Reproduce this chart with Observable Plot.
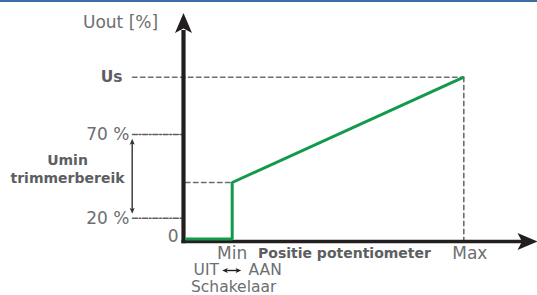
<!DOCTYPE html>
<html>
<head>
<meta charset="utf-8">
<script src="https://cdn.jsdelivr.net/npm/d3@7"></script>
<script src="https://cdn.jsdelivr.net/npm/@observablehq/plot@0.6"></script>
<style>
  html, body { margin: 0; padding: 0; background: #fff; }
  #wrap { width: 537px; height: 293px; border-top: 2px solid #3d6da3; overflow: hidden; }
  svg { display: block; }
</style>
</head>
<body>
<div id="wrap"></div>
<script>
// ---- data (schematic units) ----
const xMin = 48.7;          // potentiometer "Min"
const xMax = 280.3;         // potentiometer "Max"
const xEnd = 354;           // x-axis arrow tip
const yTop = 228.5;         // y-axis arrow tip
const yOff = 2.5;           // output level when switched off
const yUmin = 59;           // Umin level at Min
const yUs = 164.3;          // Us level at Max
const y70 = 107;            // 70 %
const y20 = 23.3;           // 20 %

const curveX = [2, xMin, xMin, xMax];
const curveY = [yOff, yOff, yUmin, yUs];

const yTickLabels = ["Us", "70 %", "20 %", "0"];
const yTickValues = [yUs, y70, y20, 4.5];
const yTickBold = [true, false, false, false];

const xTickLabels = ["Min", "Max"];
const xTickValues = [xMin, xMax + 6];

const axisTitleY = "Uout [%]";
const axisTitleX = "Positie potentiometer";
const rangeLabel = ["Umin", "trimmerbereik"];
const switchLabels = ["UIT", "AAN", "Schakelaar"];

// ---- build ----
const curve = curveX.map((x, i) => ({x, y: curveY[i]}));
const yTicks = yTickLabels.map((t, i) => ({t, y: yTickValues[i], bold: yTickBold[i]}));
const xTicks = xTickLabels.map((t, i) => ({t, x: xTickValues[i]}));

const ink = "#231f20";
const grey = "#6d6e71";
const dgrey = "#5d5e61";
const green = "#13994b";
const font = "'DejaVu Sans', sans-serif";

// notched arrowhead, tip at the anchor, pointing up (rotate to turn)
const arrowHead = {
  draw(ctx, size) {
    const k = Math.sqrt(size / Math.PI);
    ctx.moveTo(0, 0);
    ctx.lineTo(8.5 * k, 20 * k);
    ctx.lineTo(0, 15.5 * k);
    ctx.lineTo(-8.5 * k, 20 * k);
    ctx.closePath();
  }
};

const rangeTop = 102.7, rangeBot = 27.7, rangeX = -51.3;
const swY = -29, swX1 = 38.7, swX2 = 57.7;

const chart = Plot.plot({
  width: 537,
  height: 293,
  marginLeft: 183,
  marginRight: 0,
  marginTop: 10.5,
  marginBottom: 54,
  x: {domain: [0, xEnd], axis: null},
  y: {domain: [0, yTop], axis: null},
  style: {fontFamily: font, background: "#fff"},
  marks: [
    // dashed guide lines
    Plot.line([{x: -51, y: yUs}, {x: xMax, y: yUs}], {x: "x", y: "y", stroke: grey, strokeWidth: 1.6, strokeDasharray: "4.5,3.5"}),
    Plot.line([{x: xMax, y: yUs}, {x: xMax, y: 0}], {x: "x", y: "y", stroke: grey, strokeWidth: 1.6, strokeDasharray: "4.5,3.5"}),
    Plot.line([{x: 2, y: yUmin}, {x: xMin, y: yUmin}], {x: "x", y: "y", stroke: grey, strokeWidth: 1.6, strokeDasharray: "4.5,3.5"}),
    Plot.line([{x: -51, y: y70}, {x: -2, y: y70}], {x: "x", y: "y", stroke: dgrey, strokeWidth: 1.6, strokeDasharray: "5,1.8,1.6,1.8"}),
    Plot.line([{x: -51, y: y20}, {x: -2, y: y20}], {x: "x", y: "y", stroke: dgrey, strokeWidth: 1.6, strokeDasharray: "5,1.8,1.6,1.8"}),
    // range double arrow
    Plot.link([{x: rangeX, y1: rangeTop - 4, y2: rangeBot + 4}], {x1: "x", x2: "x", y1: "y1", y2: "y2", stroke: "#333", strokeWidth: 1.4}),
    Plot.dot([{x: rangeX, y: rangeTop, a: 0}, {x: rangeX, y: rangeBot, a: 180}], {x: "x", y: "y", r: 0.3, symbol: arrowHead, fill: "#333", stroke: null, rotate: "a"}),
    // switch double arrow
    Plot.link([{x1: swX1 + 4, x2: swX2 - 4, y: swY}], {x1: "x1", x2: "x2", y1: "y", y2: "y", stroke: ink, strokeWidth: 1.4}),
    Plot.dot([{x: swX1, y: swY, a: 270}, {x: swX2, y: swY, a: 90}], {x: "x", y: "y", r: 0.28, symbol: arrowHead, fill: ink, stroke: null, rotate: "a"}),
    // axes
    Plot.link([{x1: 0, x2: 0, y1: -1.8, y2: yTop - 17}], {x1: "x1", x2: "x2", y1: "y1", y2: "y2", stroke: ink, strokeWidth: 4.2}),
    Plot.link([{x1: -2.1, x2: xEnd - 15, y1: 0, y2: 0}], {x1: "x1", x2: "x2", y1: "y1", y2: "y2", stroke: ink, strokeWidth: 3.6}),
    Plot.dot([{x: 0, y: yTop}], {x: "x", y: "y", r: 1, symbol: arrowHead, fill: ink, stroke: null}),
    Plot.dot([{x: xEnd, y: 0}], {x: "x", y: "y", r: 1, symbol: arrowHead, fill: ink, stroke: null, rotate: 90}),
    // curve
    Plot.line(curve, {x: "x", y: "y", stroke: green, strokeWidth: 3, strokeLinejoin: "miter", strokeLinecap: "butt"}),
    // y labels
    Plot.text(yTicks.filter(d => !d.bold), {x: d => d.t === "0" ? -5 : -54, y: "y", text: "t", textAnchor: "end", fill: grey, fontSize: 17}),
    Plot.text(yTicks.filter(d => d.bold), {x: -61, y: "y", text: "t", textAnchor: "end", fill: dgrey, fontSize: 15.5, fontWeight: "bold"}),
    Plot.text([axisTitleY], {x: -63, y: 219.3, text: d => d, fill: grey, fontSize: 17}),
    Plot.text([rangeLabel[0]], {x: -116, y: 81, text: d => d, fill: dgrey, fontSize: 14, fontWeight: "bold"}),
    Plot.text([rangeLabel[1]], {x: -116, y: 63, text: d => d, fill: dgrey, fontSize: 14, fontWeight: "bold"}),
    // x labels
    Plot.text(xTicks, {x: "x", y: -12, text: "t", fill: grey, fontSize: 17}),
    Plot.text([axisTitleX], {x: 74.5, y: -12.5, text: d => d, textAnchor: "start", fill: dgrey, fontSize: 14, fontWeight: "bold"}),
    Plot.text([switchLabels[0]], {x: 35.5, y: swY, text: d => d, textAnchor: "end", fill: grey, fontSize: 15.5}),
    Plot.text([switchLabels[1]], {x: 65, y: swY, text: d => d, textAnchor: "start", fill: grey, fontSize: 15.5}),
    Plot.text([switchLabels[2]], {x: 7.5, y: -46, text: d => d, textAnchor: "start", fill: grey, fontSize: 15.5})
  ]
});
document.getElementById("wrap").append(chart);
</script>
</body>
</html>
